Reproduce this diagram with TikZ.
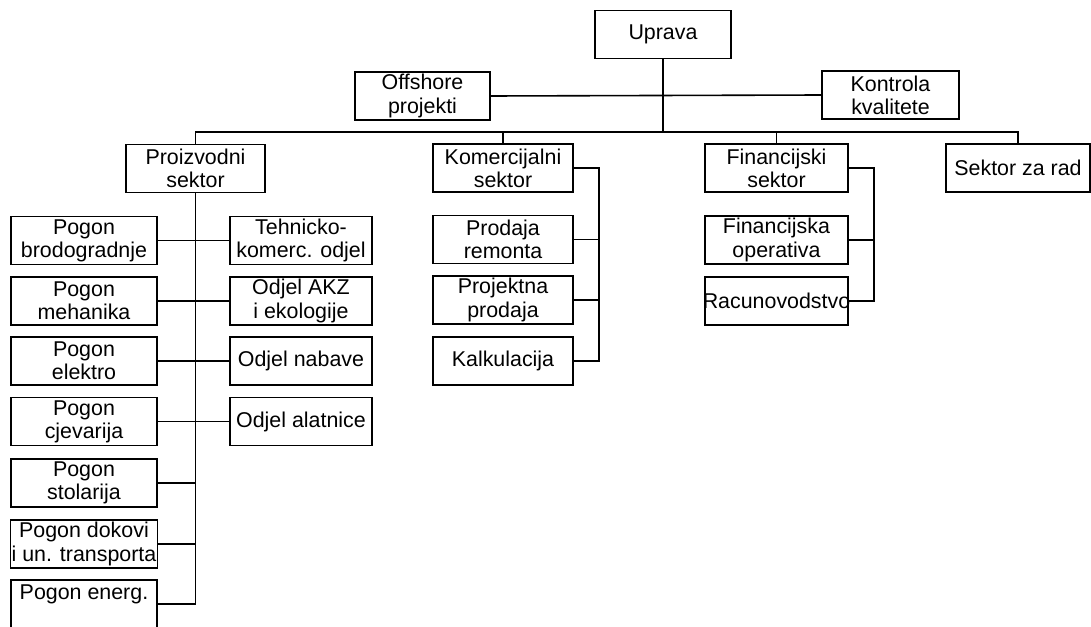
\documentclass[tikz,border=0pt]{standalone}
\usepackage{fontspec}
\setmainfont{Liberation Sans}
\usepackage{tikz}

\begin{document}
\begin{tikzpicture}[x=0.5pt,y=-0.5pt,line width=0.8pt,
    unit/.style={draw,align=center,inner sep=0.5pt,font=\fontsize{10.7}{11.6}\selectfont,
                 minimum height=24pt},
    wbox/.style={unit,minimum width=#1}]
        \useasboundingbox (0,0) rectangle (1091,626);
        \node[wbox=68pt] (upr) at (663,34.5) {Uprava};
        \node[wbox=67.5pt] (off) at (422.5,96) {Offshore\\projekti};
        \node[wbox=68.5pt] (kon) at (890.5,95) {Kontrola\\kvalitete};
        \node[wbox=69.5pt] (pro) at (195.5,168.5) {Proizvodni\\sektor};
        \node[wbox=70pt] (kom) at (503,168) {Komercijalni\\sektor};
        \node[wbox=71.5pt] (fin) at (776.5,168) {Financijski\\sektor};
        \node[wbox=72pt] (srad) at (1018,168) {Sektor za rad};
        \coordinate (bus) at (663,132);
        \draw (upr) -- (bus);
        \draw (off.east) -- (kon.west);
        \draw (pro.north) |- (bus) -| (srad.north);
        \draw (kom.north) -- (kom.north |- bus);
        \draw (fin.north) -- (fin.north |- bus);
        \node[wbox=73pt] (brod) at (84,240.5) {Pogon\\brodogradnje};
        \node[wbox=73pt] (meh) at (84,301) {Pogon\\mehanika};
        \node[wbox=73pt] (ele) at (84,361) {Pogon\\elektro};
        \node[wbox=73pt] (cje) at (84,421.5) {Pogon\\cjevarija};
        \node[wbox=73pt] (sto) at (84,483) {Pogon\\stolarija};
        \node[wbox=73pt] (dok) at (84,544) {Pogon dokovi\\i un. transporta};
        \node[wbox=73pt] (ene) at (84,604) {Pogon energ.\\\mbox{}};
        \node[wbox=71pt] (teh) at (301,240.5) {Tehnicko-\\komerc. odjel};
        \node[wbox=71pt] (akz) at (301,301) {Odjel AKZ\\i ekologije};
        \node[wbox=71pt] (nab) at (301,361) {Odjel nabave};
        \node[wbox=71pt] (ala) at (301,421.5) {Odjel alatnice};
        \draw (pro.south) -- (pro.south |- ene.east) -- (ene.east);
        \foreach \l/\r in {brod/teh,meh/akz,ele/nab,cje/ala}
            \draw (\l.east) -- (\r.west);
        \foreach \l in {sto,dok}
            \draw (\l.east) -- (\l.east -| pro.south);
        \node[wbox=70pt] (rem) at (503,239.5) {Prodaja\\remonta};
        \node[wbox=70pt] (ppr) at (503,300) {Projektna\\prodaja};
        \node[wbox=70pt] (kal) at (503,361) {Kalkulacija};
        \draw (kom.east) -- ++(25,0) coordinate (kbr) |- (kal.east);
        \draw (rem.east) -- (rem.east -| kbr);
        \draw (ppr.east) -- (ppr.east -| kbr);
        \node[wbox=71.5pt] (fop) at (776.5,240) {Financijska\\operativa};
        \node[wbox=71.5pt] (rac) at (776.5,301) {\makebox[69pt]{Racunovodstvo}};
        \draw (fin.east) -- ++(25,0) coordinate (fbr) |- (rac.east);
        \draw (fop.east) -- (fop.east -| fbr);
    \end{tikzpicture}
\end{document}
